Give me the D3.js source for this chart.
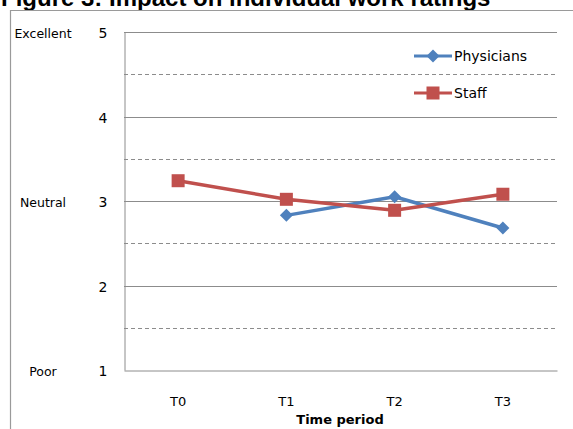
<!DOCTYPE html>
<html>
<head>
<meta charset="utf-8">
<script src="https://cdn.jsdelivr.net/npm/d3@7/dist/d3.min.js"></script>
<style>
  html, body { margin: 0; padding: 0; background: #fff; }
  svg { display: block; }
</style>
</head>
<body>
<svg id="chart" width="573" height="429"></svg>
<script>
// Ratings per time period (1 = Poor, 3 = Neutral, 5 = Excellent)
const periods = ["T0", "T1", "T2", "T3"];
const physicians = [null, 2.83, 3.05, 2.68];
const staff = [3.24, 3.02, 2.89, 3.08];
const yTicks = [1, 2, 3, 4, 5];
const halfTicks = [1.5, 2.5, 3.5, 4.5];
const anchorLabels = [
  { value: 5, text: "Excellent" },
  { value: 3, text: "Neutral" },
  { value: 1, text: "Poor" }
];

const seriesList = [
  { name: "Physicians", values: physicians, color: "#4F81BD", marker: "diamond" },
  { name: "Staff", values: staff, color: "#C0504D", marker: "square" }
];

const svg = d3.select("#chart");
const font = "'Liberation Sans', Arial, sans-serif";
const labelFont = "'DejaVu Sans', sans-serif";

// Title, running off the top edge of the frame
svg.append("text")
  .attr("x", 1).attr("y", 6)
  .attr("font-family", font).attr("font-weight", "bold").attr("font-size", 24)
  .attr("fill", "#000")
  .text("Figure 3: Impact on individual work ratings");

// Outer frame
svg.append("path")
  .attr("d", "M10.5,429 V10.5 H573")
  .attr("fill", "none").attr("stroke", "#9a9a9a").attr("stroke-width", 1.2);

const plot = { left: 124, right: 557, top: 32, bottom: 370 };

const x = d3.scaleBand().domain(periods).range([plot.left, plot.right]);
const y = d3.scaleLinear().domain([1, 5]).range([plot.bottom, plot.top]);

// Dashed half-step gridlines
svg.append("g").selectAll("line").data(halfTicks).join("line")
  .attr("x1", plot.left).attr("x2", plot.right)
  .attr("y1", d => Math.round(y(d)) + 0.5).attr("y2", d => Math.round(y(d)) + 0.5)
  .attr("stroke", "#8c8c8c").attr("stroke-width", 1).attr("stroke-dasharray", "4,3");

// Solid integer gridlines
svg.append("g").selectAll("line").data(yTicks.filter(d => d > 1)).join("line")
  .attr("x1", plot.left).attr("x2", plot.right)
  .attr("y1", d => Math.round(y(d)) + 0.5).attr("y2", d => Math.round(y(d)) + 0.5)
  .attr("stroke", "#8c8c8c").attr("stroke-width", 1);

// Axes
const yAxis = svg.append("g")
  .attr("transform", `translate(${plot.left + 0.5},0)`)
  .call(d3.axisLeft(y).tickValues(yTicks).tickSize(0).tickPadding(17).tickFormat(d3.format("d")));
yAxis.select(".domain").attr("stroke", "#8c8c8c");
yAxis.selectAll("text")
  .attr("font-family", labelFont).attr("font-size", 14).attr("fill", "#000").attr("dy", "0.4em");

const xAxis = svg.append("g")
  .attr("transform", `translate(0,${plot.bottom + 0.5})`)
  .call(d3.axisBottom(x).tickSize(0).tickPadding(26));
xAxis.select(".domain").attr("stroke", "#8c8c8c");
xAxis.selectAll("text")
  .attr("font-family", labelFont).attr("font-size", 13).attr("fill", "#000");

// Rating anchors to the left of the axis
svg.append("g").selectAll("text").data(anchorLabels).join("text")
  .attr("x", 43).attr("y", d => y(d.value))
  .attr("text-anchor", "middle").attr("dy", "0.45em")
  .attr("font-family", labelFont).attr("font-size", 12.5).attr("fill", "#000")
  .text(d => d.text);

// X axis title
svg.append("text")
  .attr("x", 340).attr("y", 424)
  .attr("text-anchor", "middle")
  .attr("font-family", labelFont).attr("font-weight", "bold").attr("font-size", 13)
  .attr("fill", "#000")
  .text("Time period");

// Series lines and markers
const cx = d => x(d) + x.bandwidth() / 2;
const line = d3.line()
  .defined(d => d.v != null)
  .x(d => cx(d.p)).y(d => y(d.v));

function drawMarker(g, type, color, px, py) {
  const s = 6.5;
  if (type === "diamond") {
    g.append("path")
      .attr("d", `M${px},${py - s} L${px + s},${py} L${px},${py + s} L${px - s},${py} Z`)
      .attr("fill", color);
  } else {
    g.append("rect")
      .attr("x", px - s).attr("y", py - s).attr("width", 2 * s).attr("height", 2 * s)
      .attr("fill", color);
  }
}

seriesList.forEach(s => {
  const pts = periods.map((p, i) => ({ p, v: s.values[i] }));
  const g = svg.append("g");
  g.append("path").datum(pts)
    .attr("d", line)
    .attr("fill", "none").attr("stroke", s.color).attr("stroke-width", 3.5)
    .attr("stroke-linejoin", "round");
  pts.filter(d => d.v != null).forEach(d => drawMarker(g, s.marker, s.color, cx(d.p), y(d.v)));
});

// Legend
const legend = svg.append("g");
seriesList.forEach((s, i) => {
  const ly = 56 + i * 37;
  legend.append("line")
    .attr("x1", 414).attr("x2", 452).attr("y1", ly).attr("y2", ly)
    .attr("stroke", s.color).attr("stroke-width", 3);
  drawMarker(legend, s.marker, s.color, 433, ly);
  legend.append("text")
    .attr("x", 454).attr("y", ly).attr("dy", "0.35em")
    .attr("font-family", labelFont).attr("font-size", 14).attr("fill", "#000")
    .text(s.name);
});
</script>
</body>
</html>
